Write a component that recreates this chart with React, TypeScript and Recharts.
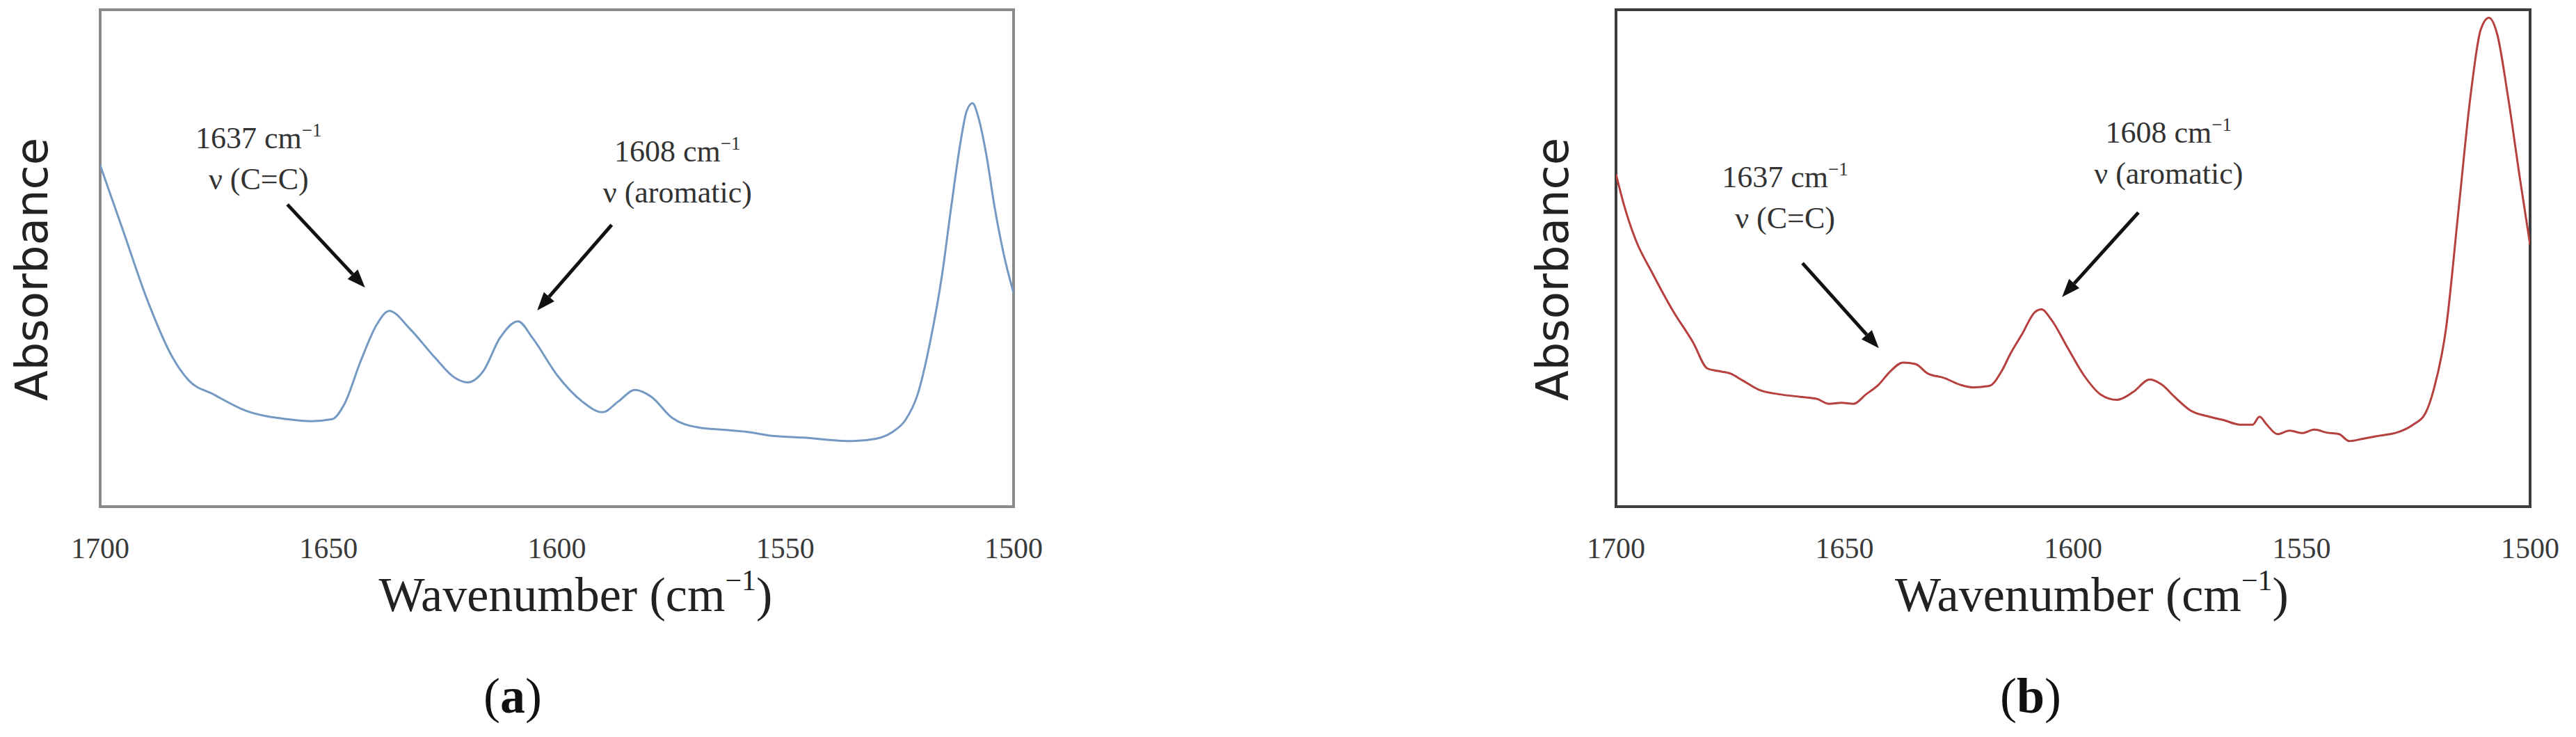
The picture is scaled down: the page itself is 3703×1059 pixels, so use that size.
import React from 'react';
import { LineChart, Line, XAxis, YAxis, ReferenceArea, ReferenceLine, ReferenceDot, Label } from 'recharts';

// shared x axis ticks (cm-1)
const WAVENUMBER_TICKS = [1700, 1650, 1600, 1550, 1500];

// panel (a) spectrum
const WAVENUMBERS_A = [
    1700, 1695, 1689.6, 1684.2, 1680.6, 1675.2, 1668.1, 1659.1, 1653.7, 1649.2,
    1646.5, 1643.0, 1639.4, 1636.7, 1632.2, 1626.8, 1622.3, 1619.6, 1616.1, 1612.5,
    1608.5, 1605.3, 1599.9, 1594.5, 1590.0, 1586.5, 1582.9, 1579.3, 1574.8, 1569.4,
    1564.0, 1558.7, 1553.3, 1546.1, 1535.3, 1530.0, 1526.4, 1523.7, 1521.0, 1518.3,
    1515.6, 1513.7, 1511.5, 1510.3, 1509.0, 1507.6, 1506.0, 1504.1, 1502.2, 1500,
];
const ABSORBANCE_A = [
    68.7, 55.6, 41.4, 30.1, 25.4, 22.6, 19.3, 17.6, 17.2, 17.6,
    20.7, 29.2, 36.7, 39.4, 35.8, 30.1, 25.9, 25.0, 27.3, 33.9,
    37.3, 33.9, 26.4, 21.2, 19.0, 21.2, 23.5, 22.1, 17.9, 16.0,
    15.5, 15.1, 14.3, 13.9, 13.2, 13.7, 15.1, 17.4, 22.6, 33.0,
    47.0, 60.0, 74.0, 79.5, 81.2, 78.0, 71.0, 60.0, 51.0, 43.0,
];

// panel (b) spectrum
const WAVENUMBERS_B = [
    1700, 1698.4, 1695.7, 1692.1, 1687.6, 1683.1, 1680.0, 1677.7, 1675.0, 1672.3,
    1668.7, 1664.2, 1659.7, 1656.1, 1653.4, 1650.7, 1648.0, 1645.3, 1642.6, 1639.9,
    1637.2, 1634.5, 1631.8, 1628.2, 1624.6, 1621.9, 1618.3, 1615.6, 1613.8, 1611.1,
    1608.4, 1606.9, 1604.8, 1601.2, 1597.6, 1594.0, 1590.4, 1586.8, 1583.2, 1580.5,
    1577.8, 1574.2, 1570.6, 1567.0, 1563.4, 1560.7, 1559.2, 1557.6, 1555.3, 1552.6,
    1549.9, 1547.2, 1544.5, 1541.8, 1539.6, 1536.4, 1532.8, 1529.2, 1525.6, 1522.9,
    1521.1, 1518.4, 1515.7, 1513.0, 1510.8, 1509.0, 1507.2, 1504.9, 1502.2, 1500,
];
const ABSORBANCE_B = [
    66.9, 61.2, 53.7, 47.1, 39.5, 33.0, 27.8, 27.3, 26.8, 25.4,
    23.5, 22.6, 22.1, 21.7, 20.7, 20.9, 20.7, 22.6, 24.5, 27.3,
    29.0, 28.7, 26.8, 25.9, 24.5, 24.0, 24.3, 27.3, 30.6, 34.8,
    39.1, 39.7, 37.7, 32.0, 26.4, 22.6, 21.5, 23.1, 25.6, 24.5,
    22.1, 19.3, 18.2, 17.4, 16.5, 16.5, 18.1, 16.5, 14.6, 15.3,
    14.8, 15.5, 14.9, 14.6, 13.2, 13.7, 14.3, 14.9, 16.5, 18.8,
    23.5, 35.8, 59.3, 82.9, 96.0, 98.4, 95.1, 82.9, 65.9, 52.7,
];

// peak annotations
const PEAK_LABELS = ['1637', '1608'];
const PEAK_MODES = ['ν (C=C)', 'ν (aromatic)'];

// text anchors and arrows, in (wavenumber, absorbance) units
const TEXT_ANCHORS_A = [[1665.3, 72.1], [1573.6, 69.5]];
const ARROWS_A = [[1659.0, 60.8, 1642.0, 44.1], [1588.0, 56.7, 1604.3, 39.5]];
const TEXT_ANCHORS_B = [[1663.0, 64.3], [1579.1, 73.2]];
const ARROWS_B = [[1659.2, 49.0, 1642.5, 31.9], [1585.7, 59.2, 1602.4, 42.2]];

const SERIF = '"Liberation Serif", "Times New Roman", serif';

const toRows = (wn: number[], abs: number[]) => wn.map((w, i) => ({ wn: w, abs: abs[i] }));

const ArrowShape = (props: any) => {
    const { x1, y1, x2, y2 } = props;
    const dx = x2 - x1;
    const dy = y2 - y1;
    const len = Math.hypot(dx, dy) || 1;
    const ux = dx / len;
    const uy = dy / len;
    const head = 26;
    const half = 10;
    const bx = x2 - ux * head;
    const by = y2 - uy * head;
    return (
        <g>
            <line x1={x1} y1={y1} x2={bx} y2={by} stroke="#111" strokeWidth={5} />
            <polygon
                points={`${x2},${y2} ${bx - uy * half},${by + ux * half} ${bx + uy * half},${by - ux * half}`}
                fill="#111"
            />
        </g>
    );
};

const peakText = (peak: string, mode: string) => (props: any) => {
    const { cx, cy } = props;
    return (
        <text textAnchor="middle" fontFamily={SERIF} fontSize={44} fill="#333">
            <tspan x={cx} y={cy}>{peak} cm</tspan>
            <tspan dy={-17} fontSize={27}>−1</tspan>
            <tspan x={cx} y={cy + 59}>{mode}</tspan>
        </text>
    );
};

const renderAxisTitle = (props: any) => {
    const vb = props.viewBox || {};
    const cx = vb.x + vb.width / 2 + 27;
    return (
        <text x={cx} y={vb.y + 150} textAnchor="middle" fontFamily={SERIF} fontSize={70} fill="#222">
            Wavenumber (cm
            <tspan dy={-30} fontSize={42}>−1</tspan>
            <tspan dy={30}>)</tspan>
        </text>
    );
};

interface PanelProps {
    wavenumbers: number[];
    absorbance: number[];
    color: string;
    frameColor: string;
    left: number;
    width: number;
    margin: { top: number; right: number; bottom: number; left: number };
    anchors: number[][];
    arrows: number[][];
}

const SpectrumPanel: React.FC<PanelProps> = ({ wavenumbers, absorbance, color, frameColor, left, width, margin, anchors, arrows }) => (
    <div style={{ position: 'absolute', left, top: 0 }}>
        <LineChart width={width} height={1059} data={toRows(wavenumbers, absorbance)} margin={margin}>
            <XAxis
                dataKey="wn"
                type="number"
                domain={[1500, 1700]}
                reversed
                ticks={WAVENUMBER_TICKS}
                interval={0}
                allowDataOverflow
                axisLine={false}
                tickLine={false}
                tickMargin={38}
                height={60}
                tick={{ fill: '#3a3a3a', fontSize: 42, fontFamily: SERIF }}
            >
                <Label content={renderAxisTitle} position="bottom" />
            </XAxis>
            <YAxis hide domain={[0, 100]} type="number" allowDataOverflow />
            <ReferenceArea x1={1700} x2={1500} y1={0} y2={100} fill="none" stroke={frameColor} strokeWidth={4} />
            <Line
                type="monotone"
                dataKey="abs"
                stroke={color}
                strokeWidth={3}
                dot={false}
                isAnimationActive={false}
            />
            {arrows.map((a, i) => (
                <ReferenceLine
                    key={`arrow-${i}`}
                    segment={[{ x: a[0], y: a[1] }, { x: a[2], y: a[3] }]}
                    shape={ArrowShape}
                />
            ))}
            {anchors.map((p, i) => (
                <ReferenceDot
                    key={`text-${i}`}
                    x={p[0]}
                    y={p[1]}
                    r={1}
                    shape={peakText(PEAK_LABELS[i], PEAK_MODES[i])}
                />
            ))}
        </LineChart>
    </div>
);

const sideLabel: React.CSSProperties = {
    position: 'absolute',
    top: 387,
    transform: 'translate(-50%, -50%) rotate(-90deg)',
    fontFamily: '"DejaVu Sans", sans-serif',
    fontSize: 64,
    color: '#222',
    whiteSpace: 'nowrap',
    lineHeight: 1,
};

const tagLabel: React.CSSProperties = {
    position: 'absolute',
    top: 1000,
    transform: 'translate(-50%, -50%)',
    fontFamily: SERIF,
    fontSize: 72,
    color: '#111',
    whiteSpace: 'nowrap',
    lineHeight: 1,
};

export default function App() {
    return (
        <div style={{ position: 'absolute', left: 0, top: 0, width: 3703, height: 1059, background: '#fff', overflow: 'hidden' }}>
            <SpectrumPanel
                wavenumbers={WAVENUMBERS_A}
                absorbance={ABSORBANCE_A}
                color="#7499c2"
                frameColor="#8a8a8a"
                left={0}
                width={1850}
                margin={{ top: 14, right: 393, bottom: 271, left: 144 }}
                anchors={TEXT_ANCHORS_A}
                arrows={ARROWS_A}
            />
            <SpectrumPanel
                wavenumbers={WAVENUMBERS_B}
                absorbance={ABSORBANCE_B}
                color="#b5403e"
                frameColor="#3c3c3c"
                left={1850}
                width={1853}
                margin={{ top: 14, right: 66, bottom: 271, left: 473 }}
                anchors={TEXT_ANCHORS_B}
                arrows={ARROWS_B}
            />
            <div style={{ ...sideLabel, left: 46 }}>Absorbance</div>
            <div style={{ ...sideLabel, left: 2232 }}>Absorbance</div>
            <div style={{ ...tagLabel, left: 737 }}>(<b>a</b>)</div>
            <div style={{ ...tagLabel, left: 2919 }}>(<b>b</b>)</div>
        </div>
    );
}
